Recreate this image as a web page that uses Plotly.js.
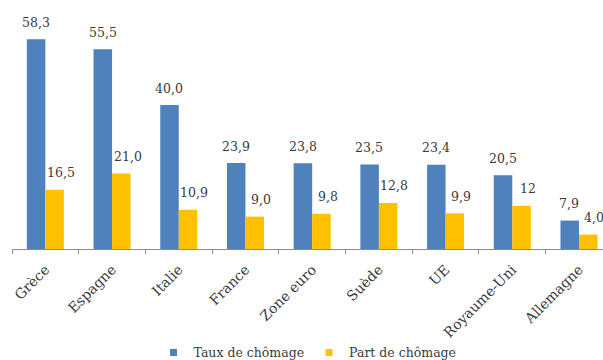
<!DOCTYPE html>
<html>
<head>
<meta charset="utf-8">
<script src="https://cdn.plot.ly/plotly-3.0.1.min.js"></script>
<style>html,body{margin:0;padding:0;background:#fff;}#chart{width:603px;height:360px;}</style>
</head>
<body>
<div id="chart"></div>
<script>
const categories = ["Grèce","Espagne","Italie","France","Zone euro","Suède","UE","Royaume-Uni","Allemagne"];
const tauxValues = [58.3,55.5,40.0,23.9,23.8,23.5,23.4,20.5,7.9];
const partValues = [16.5,21.0,10.9,9.0,9.8,12.8,9.9,12,4.0];
const tauxLabels = ["58,3","55,5","40,0","23,9","23,8","23,5","23,4","20,5","7,9"];
const partLabels = ["16,5","21,0","10,9","9,0","9,8","12,8","9,9","12","4,0"];
const seriesNames = ["Taux de chômage","Part de chômage"];

const BLUE = "#4F81BD", YELLOW = "#FFC000";
const FONT = "DejaVu Serif, Liberation Serif, serif";
const TEXT = "#3a3a3a";

const traces = [
  {type:"bar", x:categories, y:tauxValues, name:seriesNames[0], marker:{color:BLUE}, showlegend:false, hoverinfo:"none"},
  {type:"bar", x:categories, y:partValues, name:seriesNames[1], marker:{color:YELLOW}, showlegend:false, hoverinfo:"none"},
  {type:"scatter", mode:"markers", x:[null], y:[null], name:seriesNames[0], marker:{symbol:"square", size:7, color:BLUE}, showlegend:true},
  {type:"scatter", mode:"markers", x:[null], y:[null], name:seriesNames[1], marker:{symbol:"square", size:7, color:YELLOW}, showlegend:true}
];

const annotations = [];
categories.forEach((c,i)=>{
  annotations.push({x:c, y:tauxValues[i], xref:"x", yref:"y", text:tauxLabels[i], showarrow:false,
    xshift:-9.5, yshift:17, yanchor:"middle", xanchor:"center", font:{family:FONT, size:12.5, color:TEXT}});
  annotations.push({x:c, y:partValues[i], xref:"x", yref:"y", text:partLabels[i], showarrow:false,
    xshift:15.5, yshift:17, yanchor:"middle", xanchor:"center", font:{family:FONT, size:12.5, color:TEXT}});
});

const layout = {
  width:603, height:360,
  margin:{l:12, r:0, t:0, b:111},
  paper_bgcolor:"#fff", plot_bgcolor:"#fff",
  barmode:"group", bargap:0.445, bargroupgap:0,
  font:{family:FONT, size:12, color:TEXT},
  xaxis:{type:"category", range:[-0.5, 8.36], showline:true, linecolor:"#8c8c8c", linewidth:1,
    ticks:"outside", tickson:"boundaries", ticklen:4, tickcolor:"#8c8c8c", ticklabelstandoff:6,
    tickangle:-45, tickfont:{family:FONT, size:14, color:TEXT}, showgrid:false, fixedrange:true},
  yaxis:{range:[0, 69.2], visible:false, showgrid:false, zeroline:false, fixedrange:true},
  showlegend:true,
  legend:{orientation:"h", xref:"container", yref:"container", x:0.51, xanchor:"center", y:0.02, yanchor:"middle",
    font:{family:FONT, size:12.5, color:TEXT}, itemwidth:30,
    traceorder:"normal", bgcolor:"rgba(0,0,0,0)"},
  annotations:annotations
};

Plotly.newPlot("chart", traces, layout, {displayModeBar:false, staticPlot:true});
</script>
</body>
</html>
